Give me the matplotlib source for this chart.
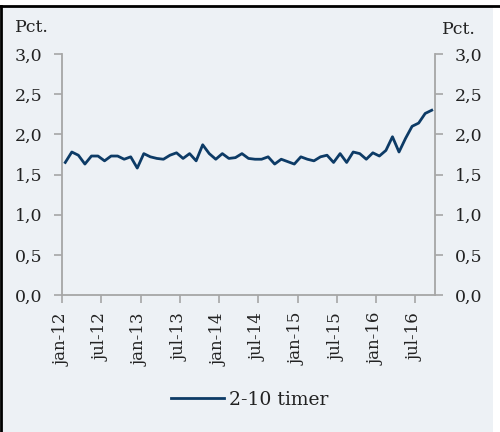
import matplotlib
matplotlib.use("Agg")
import matplotlib.pyplot as plt
from matplotlib.patches import Rectangle
from matplotlib.lines import Line2D

# monthly values, jan-12 .. sep-16
values = [1.65, 1.78, 1.74, 1.63, 1.73, 1.73, 1.67, 1.73, 1.73, 1.69,
          1.72, 1.58, 1.76, 1.72, 1.70, 1.69, 1.74, 1.77, 1.70, 1.76,
          1.67, 1.87, 1.76, 1.69, 1.76, 1.70, 1.71, 1.76, 1.70, 1.69,
          1.69, 1.72, 1.63, 1.69, 1.66, 1.63, 1.72, 1.69, 1.67, 1.72,
          1.74, 1.65, 1.76, 1.65, 1.78, 1.76, 1.69, 1.77, 1.73, 1.80,
          1.97, 1.78, 1.95, 2.10, 2.14, 2.26, 2.30]
tick_labels = ["jan-12", "jul-12", "jan-13", "jul-13", "jan-14",
               "jul-14", "jan-15", "jul-15", "jan-16", "jul-16"]
y_ticks = [0.0, 0.5, 1.0, 1.5, 2.0, 2.5, 3.0]
series_name = "2-10 timer"

bg = "#edf1f5"
navy = "#0d3b66"
grey = "#a6a6a6"
font = "DejaVu Serif"

fig = plt.figure(figsize=(5.0, 4.32), dpi=100)
fig.patch.set_facecolor("white")

# panel background with black frame on top and left
fig.patches.append(Rectangle((0, 0), 493 / 500, 1 - 6 / 432, transform=fig.transFigure,
                             facecolor=bg, edgecolor="none", zorder=-10))
fig.lines.append(Line2D([0, 1], [1 - 5.5 / 432] * 2, transform=fig.transFigure,
                        color="black", lw=2, zorder=-5))
fig.lines.append(Line2D([1 / 500] * 2, [0, 1 - 5.5 / 432], transform=fig.transFigure,
                        color="black", lw=2, zorder=-5))

ax = fig.add_axes([62 / 500, 1 - 295 / 432, (435 - 62) / 500, (295 - 54) / 432])
ax.set_facecolor(bg)

x = list(range(len(values)))
ax.plot(x, values, color=navy, lw=2.0, label=series_name)

ax.set_xlim(-0.5, len(values) - 0.5)
ax.set_ylim(0, 3)
ax.set_xticks([i * 6 - 0.5 for i in range(len(tick_labels))])
ax.set_xticklabels(tick_labels, rotation=90, fontfamily=font, fontsize=12)
ax.set_yticks(y_ticks)
ax.set_yticklabels([f"{v:.1f}".replace(".", ",") for v in y_ticks],
                   fontfamily=font, fontsize=12.5)

for side in ["left", "right", "bottom"]:
    ax.spines[side].set_color(grey)
    ax.spines[side].set_linewidth(1.3)
ax.spines["top"].set_visible(False)

ax.tick_params(axis="y", which="both", left=True, right=True, labelleft=True,
               labelright=True, direction="out", length=6, width=1.2, color=grey,
               pad=8, labelcolor="#222222")
ax.tick_params(axis="x", direction="out", length=6, width=1.2, color=grey,
               pad=7, labelcolor="#222222")

fig.text(15 / 500, 1 - 27 / 432, "Pct.", fontfamily=font, fontsize=12.5,
         color="#222222", va="center", ha="left")
fig.text(476 / 500, 1 - 29 / 432, "Pct.", fontfamily=font, fontsize=12.5,
         color="#222222", va="center", ha="right")

leg = fig.legend(loc="center", bbox_to_anchor=(250 / 500, 1 - 400 / 432), frameon=False,
                 prop={"family": font, "size": 13.5}, handlelength=2.8, handletextpad=0.3)
for t in leg.get_texts():
    t.set_color("#222222")

fig.savefig("out.png", dpi=100, facecolor=fig.get_facecolor())
